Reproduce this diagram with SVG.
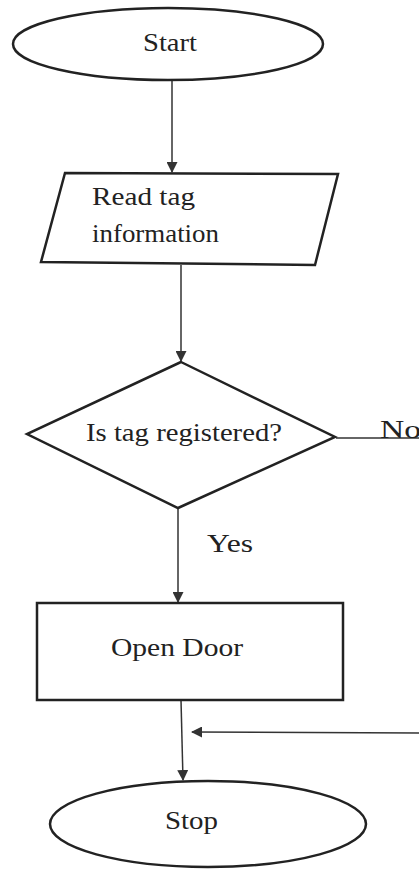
<svg xmlns="http://www.w3.org/2000/svg" width="419" height="869" viewBox="0 0 419 869" font-family="'Liberation Serif', 'Times New Roman', serif">
<style>
.shape{fill:#fff;stroke:#222;stroke-width:2.5}
.line{fill:none;stroke:#333;stroke-width:1.5}
.t{font-family:'Liberation Serif','Times New Roman',serif;font-size:26px;fill:#222}
</style>
<defs>
<marker id="arr" markerWidth="11" markerHeight="11" refX="10" refY="5.5" orient="auto" markerUnits="userSpaceOnUse">
<path d="M0,0 L11,5.5 L0,11 Z" fill="#333"/>
</marker>
</defs>
<rect width="419" height="869" fill="#fff"/>
<g id="connectors">
<line class="line" x1="172" y1="80" x2="172" y2="172" marker-end="url(#arr)"/>
<line class="line" x1="181" y1="265" x2="181" y2="361" marker-end="url(#arr)"/>
<line class="line" x1="336" y1="438" x2="419" y2="438"/>
<line class="line" x1="178" y1="508" x2="178" y2="602" marker-end="url(#arr)"/>
<line class="line" x1="181" y1="700" x2="183" y2="780" marker-end="url(#arr)"/>
<line class="line" x1="419" y1="733" x2="192" y2="732" marker-end="url(#arr)"/>
<text class="t" x="380" y="438" textLength="41" lengthAdjust="spacingAndGlyphs">No</text>
<text class="t" x="207" y="552" textLength="46" lengthAdjust="spacingAndGlyphs">Yes</text>
</g>
<g id="start">
<ellipse class="shape" cx="168" cy="44" rx="155" ry="36"/>
<text class="t" x="143" y="51" textLength="54" lengthAdjust="spacingAndGlyphs">Start</text>
</g>
<g id="read">
<polygon class="shape" points="65,173 338,174 315,265 41,262"/>
<text class="t" x="92" y="205" textLength="103" lengthAdjust="spacingAndGlyphs">Read tag</text>
<text class="t" x="92" y="242" textLength="127" lengthAdjust="spacingAndGlyphs">information</text>
</g>
<g id="decision">
<polygon class="shape" points="181,362 335,437 178,508 27,434"/>
<text class="t" x="86" y="441" textLength="196" lengthAdjust="spacingAndGlyphs">Is tag registered?</text>
</g>
<g id="open">
<rect class="shape" x="37" y="603" width="306" height="97"/>
<text class="t" x="111" y="656" textLength="132" lengthAdjust="spacingAndGlyphs">Open Door</text>
</g>
<g id="stop">
<ellipse class="shape" cx="208" cy="824" rx="158" ry="43"/>
<text class="t" x="165" y="829" textLength="53" lengthAdjust="spacingAndGlyphs">Stop</text>
</g>
</svg>
